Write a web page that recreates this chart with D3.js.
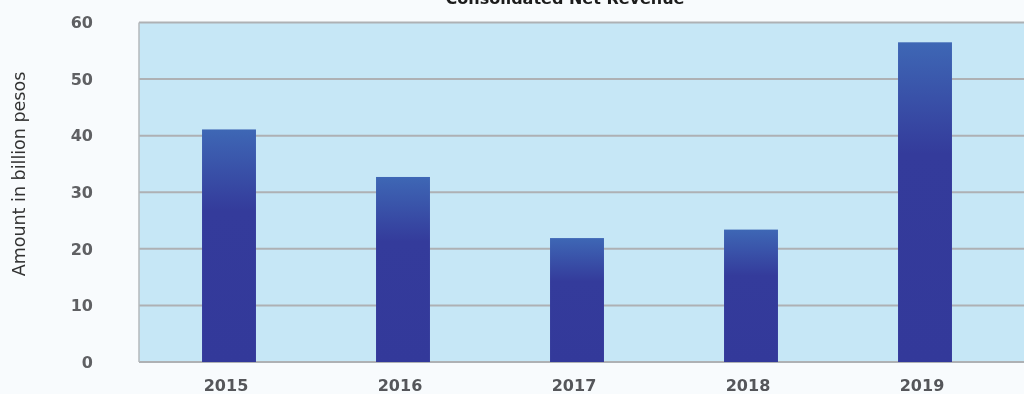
<!DOCTYPE html>
<html>
<head>
<meta charset="utf-8">
<script src="https://cdn.jsdelivr.net/npm/d3@7"></script>
<style>
  html, body { margin: 0; padding: 0; background: #f8fbfd; }
  svg { display: block; }
</style>
</head>
<body>
<svg id="chart" width="1024" height="394"></svg>
<script>
// Consolidated net revenue, in billion pesos
const years = ["2015", "2016", "2017", "2018", "2019"];
const revenue = [41.1, 32.7, 21.9, 23.4, 56.5];
const yTicks = [0, 10, 20, 30, 40, 50, 60];
const chartTitle = "Consolidated Net Revenue";
const yTitle = "Amount in billion pesos";

const W = 1024, H = 394;
const plot = { left: 139, right: 1030, top: 22.5, bottom: 362 };

const svg = d3.select("#chart");

const x = d3.scaleBand()
  .domain(years)
  .range([142, 1012])
  .paddingInner(0.69)
  .paddingOuter(0.345);

const y = d3.scaleLinear()
  .domain([0, 60])
  .range([plot.bottom, plot.top]);

// bar gradient: lighter blue at the top fading into deep indigo
const defs = svg.append("defs");
const grad = defs.append("linearGradient")
  .attr("id", "barGrad")
  .attr("x1", 0).attr("y1", 0).attr("x2", 0).attr("y2", 1);
grad.append("stop").attr("offset", "0%").attr("stop-color", "#3e67b5");
grad.append("stop").attr("offset", "35%").attr("stop-color", "#343b9b");
grad.append("stop").attr("offset", "100%").attr("stop-color", "#33399a");

const blur = defs.append("filter").attr("id", "soft").attr("x", "-10%").attr("y", "-50%").attr("width", "120%").attr("height", "200%");
blur.append("feGaussianBlur").attr("stdDeviation", 0.6);

// plot background
svg.append("rect")
  .attr("x", plot.left).attr("y", plot.top)
  .attr("width", plot.right - plot.left)
  .attr("height", plot.bottom - plot.top)
  .attr("fill", "#c6e7f6");

// horizontal grid lines
svg.append("g")
  .selectAll("line")
  .data(yTicks)
  .join("line")
  .attr("x1", plot.left).attr("x2", plot.right)
  .attr("y1", d => y(d)).attr("y2", d => y(d))
  .attr("stroke", "#aeb1b4")
  .attr("stroke-width", 2);

// left border of the plot area
svg.append("line")
  .attr("x1", plot.left).attr("x2", plot.left)
  .attr("y1", plot.top).attr("y2", plot.bottom)
  .attr("stroke", "#b4b8bb")
  .attr("stroke-width", 1.5);

// bars
svg.append("g")
  .selectAll("rect")
  .data(years.map((yr, i) => ({ yr, v: revenue[i] })))
  .join("rect")
  .attr("x", d => x(d.yr))
  .attr("y", d => y(d.v))
  .attr("width", x.bandwidth())
  .attr("height", d => y(0) - y(d.v))
  .attr("fill", "url(#barGrad)");

// y tick labels
svg.append("g")
  .selectAll("text")
  .data(yTicks)
  .join("text")
  .attr("x", 93)
  .attr("y", d => y(d))
  .attr("dy", "0.36em")
  .attr("text-anchor", "end")
  .attr("font-family", "DejaVu Sans")
  .attr("font-weight", "bold")
  .attr("font-size", 16)
  .attr("fill", "#5f6063")
  .attr("filter", "url(#soft)")
  .text(d => d);

// x tick labels
svg.append("g")
  .selectAll("text")
  .data(years)
  .join("text")
  .attr("x", d => x(d) + x.bandwidth() / 2 - 3)
  .attr("y", 391)
  .attr("text-anchor", "middle")
  .attr("font-family", "DejaVu Sans")
  .attr("font-weight", "bold")
  .attr("font-size", 16)
  .attr("fill", "#55575a")
  .attr("filter", "url(#soft)")
  .text(d => d);

// y axis title
svg.append("text")
  .attr("transform", "translate(25," + 174 + ") rotate(-90)")
  .attr("text-anchor", "middle")
  .attr("font-family", "DejaVu Sans")
  .attr("font-size", 17.5)
  .attr("fill", "#333")
  .attr("filter", "url(#soft)")
  .text(yTitle);

// chart title (partly above the top edge)
svg.append("text")
  .attr("x", 565)
  .attr("y", 4)
  .attr("text-anchor", "middle")
  .attr("font-family", "DejaVu Sans")
  .attr("font-weight", "bold")
  .attr("font-size", 16)
  .attr("fill", "#1e1e1e")
  .attr("filter", "url(#soft)")
  .text(chartTitle);
</script>
</body>
</html>
